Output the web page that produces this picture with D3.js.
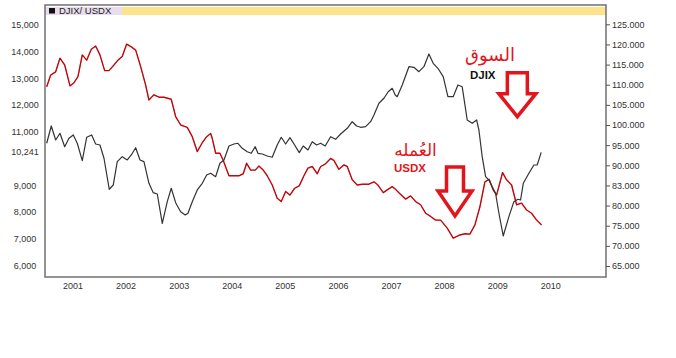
<!DOCTYPE html>
<html>
<head>
<meta charset="utf-8">
<script src="https://cdn.jsdelivr.net/npm/d3@7"></script>
<style>
  body { margin: 0; background: #fff; }
  svg text { font-family: "Liberation Sans", Arial, sans-serif; }
</style>
</head>
<body>
<div id="chart"></div>
<script>
// DJIX (left axis), decimal years + values
const djixYears = [2000.505, 2000.591, 2000.674, 2000.755, 2000.844, 2000.925, 2001.006, 2001.081, 2001.175, 2001.258,
  2001.352, 2001.427, 2001.508, 2001.584, 2001.684, 2001.759, 2001.834, 2001.928, 2002.023, 2002.098,
  2002.181, 2002.262, 2002.337, 2002.431, 2002.512, 2002.588, 2002.682, 2002.776, 2002.851, 2002.934,
  2003.028, 2003.115, 2003.166, 2003.247, 2003.341, 2003.435, 2003.518, 2003.593, 2003.687, 2003.768,
  2003.844, 2003.938, 2004.032, 2004.107, 2004.188, 2004.282, 2004.358, 2004.433, 2004.484, 2004.565,
  2004.659, 2004.753, 2004.847, 2004.923, 2005.006, 2005.087, 2005.175, 2005.262, 2005.337, 2005.426,
  2005.507, 2005.589, 2005.665, 2005.751, 2005.853, 2005.947, 2006.041, 2006.166, 2006.260, 2006.343,
  2006.418, 2006.512, 2006.606, 2006.669, 2006.763, 2006.857, 2006.938, 2007.013, 2007.070, 2007.107,
  2007.202, 2007.328, 2007.422, 2007.516, 2007.610, 2007.704, 2007.785, 2007.874, 2007.974, 2008.062,
  2008.162, 2008.251, 2008.331, 2008.426, 2008.520, 2008.603, 2008.646, 2008.708, 2008.772, 2008.834,
  2008.896, 2008.960, 2009.023, 2009.104, 2009.211, 2009.305, 2009.380, 2009.431, 2009.482, 2009.588,
  2009.682, 2009.744, 2009.819];
const djixValues = [10583, 11229, 10706, 10956, 10456, 10769, 10893, 10583, 9933, 10807,
  10893, 10556, 10519, 10023, 8865, 9026, 9896, 10082, 9959, 10146,
  10418, 9959, 9896, 9089, 8738, 8689, 7595, 8402, 8902, 8365,
  8029, 7905, 7969, 8402, 8839, 9089, 9399, 9462, 9335, 9836,
  9959, 10482, 10556, 10583, 10396, 10269, 10209, 10456, 10209, 10183,
  10108, 10060, 10519, 10807, 10556, 10792, 10519, 10232, 10482, 10333,
  10642, 10519, 10583, 10482, 10829, 10732, 10930, 11143, 11389, 11229,
  11180, 11203, 11389, 11639, 12076, 12263, 12509, 12636, 12386, 12323,
  12760, 13443, 13421, 13256, 13443, 13917, 13570, 13383, 13070, 12323,
  12323, 12760, 12696, 11453, 11329, 11453, 11079, 10082, 9335, 9212,
  8962, 8716, 7969, 7121, 7842, 8402, 8492, 8465, 9089, 9462,
  9772, 9772, 10241];

// USDX (right axis)
const usdxYears = [2000.505, 2000.580, 2000.674, 2000.755, 2000.844, 2000.944, 2001.019, 2001.094, 2001.175, 2001.258,
  2001.345, 2001.427, 2001.508, 2001.597, 2001.678, 2001.772, 2001.847, 2001.928, 2002.011, 2002.098,
  2002.181, 2002.275, 2002.369, 2002.431, 2002.525, 2002.620, 2002.714, 2002.851, 2002.934, 2003.028,
  2003.115, 2003.153, 2003.247, 2003.341, 2003.435, 2003.518, 2003.593, 2003.623, 2003.687, 2003.768,
  2003.831, 2003.938, 2004.032, 2004.126, 2004.207, 2004.271, 2004.347, 2004.433, 2004.503, 2004.584,
  2004.659, 2004.753, 2004.847, 2004.923, 2005.006, 2005.087, 2005.175, 2005.262, 2005.350, 2005.426,
  2005.507, 2005.601, 2005.665, 2005.751, 2005.853, 2005.915, 2006.009, 2006.104, 2006.166, 2006.260,
  2006.354, 2006.448, 2006.574, 2006.669, 2006.744, 2006.844, 2006.919, 2007.013, 2007.070, 2007.139,
  2007.266, 2007.360, 2007.454, 2007.548, 2007.642, 2007.736, 2007.831, 2007.925, 2008.049, 2008.162,
  2008.288, 2008.388, 2008.476, 2008.571, 2008.665, 2008.759, 2008.840, 2008.915, 2008.979, 2009.092,
  2009.167, 2009.262, 2009.356, 2009.450, 2009.544, 2009.638, 2009.733, 2009.827];
const usdxValues = [109.5, 112.4, 113.2, 116.6, 114.9, 109.7, 110.5, 112.0, 117.4, 116.1,
  118.8, 119.6, 117.4, 113.5, 113.5, 114.9, 116.1, 117.0, 120.1, 119.4,
  118.6, 114.5, 109.9, 106.2, 107.5, 106.9, 106.9, 106.4, 102.1, 100.0,
  99.6, 99.4, 97.1, 93.4, 95.6, 97.1, 97.9, 96.7, 93.0, 93.0,
  91.2, 87.4, 87.4, 87.4, 87.9, 90.5, 88.8, 88.8, 89.8, 88.8,
  87.4, 85.1, 81.8, 81.0, 83.5, 82.6, 84.3, 84.9, 87.4, 89.3,
  89.7, 87.9, 89.7, 90.3, 91.7, 91.2, 89.0, 90.1, 89.7, 86.4,
  85.1, 85.3, 85.3, 85.9, 85.1, 83.2, 83.9, 84.7, 84.1, 83.2,
  81.6, 82.4, 81.0, 80.2, 78.1, 77.3, 76.4, 76.4, 74.4, 71.9,
  72.7, 73.0, 72.9, 75.2, 79.7, 85.9, 86.5, 83.9, 82.6, 88.2,
  86.4, 85.1, 80.2, 80.6, 78.9, 78.1, 76.4, 75.2];

const yearTicks = [2001, 2002, 2003, 2004, 2005, 2006, 2007, 2008, 2009, 2010];
const leftTicks = [6000, 7000, 8000, 9000, 10241, 11000, 12000, 13000, 14000, 15000];
const rightTicks = [65, 70, 75, 80, 85, 90, 95, 100, 105, 110, 115, 120, 125];
const rightTickLabels = ["65.000", "70.000", "75.000", "80.000", "83.000", "90.000", "95.000",
  "100.000", "105.000", "110.000", "115.000", "120.000", "125.000"];

const W = 676, H = 358;
const plotLeft = 45, plotRight = 606, plotTop = 5, plotBottom = 277;

const svg = d3.select("#chart").append("svg")
  .attr("width", W)
  .attr("height", H);

const x = d3.scaleLinear().domain([2000.473, 2011.04]).range([plotLeft, plotRight]);
const yL = d3.scaleLinear().domain([6000, 15000]).range([266, 25]);
const yR = d3.scaleLinear().domain([65, 125]).range([266, 24.3]);

// header strip
svg.append("rect").attr("x", plotLeft).attr("y", 7).attr("width", plotRight - plotLeft).attr("height", 8).attr("fill", "#fde48a");
svg.append("rect").attr("x", plotLeft).attr("y", 7).attr("width", 77).attr("height", 8).attr("fill", "#e8dcee");
svg.append("rect").attr("x", 49).attr("y", 8).attr("width", 6).attr("height", 5.5).attr("fill", "#111");
svg.append("text").attr("x", 59).attr("y", 14).attr("font-size", 9.5).attr("fill", "#222").text("DJIX/ USDX");

// frame
svg.append("rect")
  .attr("x", plotLeft).attr("y", plotTop)
  .attr("width", plotRight - plotLeft).attr("height", plotBottom - plotTop)
  .attr("fill", "none").attr("stroke", "#707070").attr("stroke-width", 1.5);

// left labels
svg.append("g").selectAll("text")
  .data(leftTicks)
  .join("text")
  .attr("x", 25)
  .attr("y", d => yL(d) + 3)
  .attr("text-anchor", "middle")
  .attr("font-size", 9)
  .attr("fill", "#333")
  .text(d => d3.format(",")(d));

// right axis
const rAxis = d3.axisRight(yR)
  .tickValues(rightTicks)
  .tickSize(4)
  .tickPadding(2)
  .tickFormat((d, i) => rightTickLabels[i]);
const rg = svg.append("g").attr("transform", `translate(${plotRight},0)`).call(rAxis);
rg.select(".domain").remove();
rg.selectAll("line").attr("stroke", "#555");
rg.selectAll("text").attr("font-size", 9).attr("fill", "#333").attr("font-family", "Liberation Sans, Arial, sans-serif");

// bottom labels
svg.append("g").selectAll("text")
  .data(yearTicks)
  .join("text")
  .attr("x", d => x(d))
  .attr("y", 289)
  .attr("text-anchor", "middle")
  .attr("font-size", 9)
  .attr("fill", "#333")
  .text(d => d);

const djix = djixYears.map((t, i) => [t, djixValues[i]]);
const usdx = usdxYears.map((t, i) => [t, usdxValues[i]]);

const lineL = d3.line().x(d => x(d[0])).y(d => yL(d[1]));
const lineR = d3.line().x(d => x(d[0])).y(d => yR(d[1]));

svg.append("path").datum(usdx).attr("d", lineR)
  .attr("fill", "none").attr("stroke", "#e3141b").attr("stroke-width", 1.4).attr("stroke-linejoin", "round");
svg.append("path").datum(usdx).attr("d", lineR)
  .attr("fill", "none").attr("stroke", "#7a0000").attr("stroke-width", 0.5).attr("stroke-linejoin", "round");

svg.append("path").datum(djix).attr("d", lineL)
  .attr("fill", "none").attr("stroke", "#333").attr("stroke-width", 1.2).attr("stroke-linejoin", "round");

// annotations
function downArrow(cx, y0, shaftW, shaftH, headW, headH) {
  const p = d3.path();
  p.moveTo(cx - shaftW / 2, y0);
  p.lineTo(cx + shaftW / 2, y0);
  p.lineTo(cx + shaftW / 2, y0 + shaftH);
  p.lineTo(cx + headW / 2, y0 + shaftH);
  p.lineTo(cx, y0 + shaftH + headH);
  p.lineTo(cx - headW / 2, y0 + shaftH);
  p.lineTo(cx - shaftW / 2, y0 + shaftH);
  p.closePath();
  return p.toString();
}

svg.append("text").attr("x", x(2008.855)).attr("y", yR(115.8)).attr("text-anchor", "middle")
  .attr("font-size", 18).attr("fill", "#e3141b").style("font-family", "DejaVu Sans, Noto Sans, sans-serif")
  .text("السوق");
svg.append("text").attr("x", x(2008.478)).attr("y", yR(111.5))
  .attr("font-size", 11.5).attr("font-weight", "bold").attr("fill", "#111").text("DJIX");
svg.append("path").attr("d", downArrow(x(2009.37), yR(113), 20, 21, 37, 23))
  .attr("fill", "#fff").attr("stroke", "#e3141b").attr("stroke-width", 3.5);

svg.append("text").attr("x", x(2007.452)).attr("y", yR(92.4)).attr("text-anchor", "middle")
  .attr("font-size", 17).attr("fill", "#e3141b").style("font-family", "DejaVu Sans, Noto Sans, sans-serif")
  .text("العُمله");
svg.append("text").attr("x", x(2007.047)).attr("y", yR(88.4))
  .attr("font-size", 11.5).attr("font-weight", "bold").attr("fill", "#e3141b").text("USDX");
svg.append("path").attr("d", downArrow(x(2008.196), yR(89.6), 17, 24, 34, 25))
  .attr("fill", "#fff").attr("stroke", "#e3141b").attr("stroke-width", 3.5);
</script>
</body>
</html>
